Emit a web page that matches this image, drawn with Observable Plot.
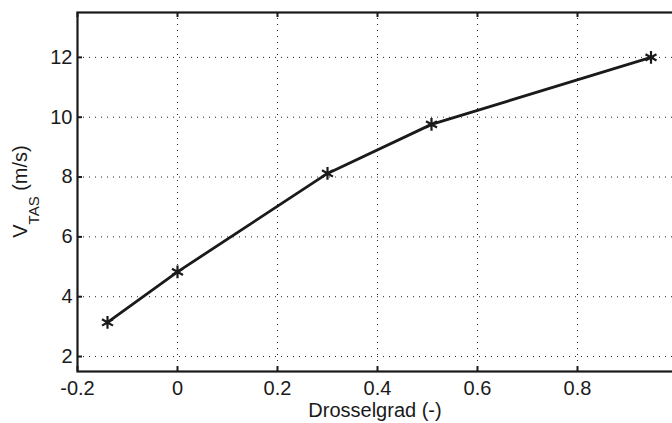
<!DOCTYPE html>
<html>
<head>
<meta charset="utf-8">
<script src="https://cdn.jsdelivr.net/npm/d3@7"></script>
<script src="https://cdn.jsdelivr.net/npm/@observablehq/plot@0.6"></script>
<style>
  html, body { margin: 0; padding: 0; background: #fff; overflow: hidden; }
  #chart { width: 672px; height: 423px; overflow: hidden; }
</style>
</head>
<body>
<div id="chart"></div>
<script>
// Data
const throttle = [-0.14, 0, 0.30, 0.508, 0.947];
const vtas = [3.14, 4.83, 8.12, 9.76, 12.0];
const xTicks = [-0.2, 0, 0.2, 0.4, 0.6, 0.8, 1.0];
const xLabelTicks = [-0.2, 0, 0.2, 0.4, 0.6, 0.8];
const xTickLabels = ["-0.2", "0", "0.2", "0.4", "0.6", "0.8"];
const yTicks = [2, 4, 6, 8, 10, 12];
const yTickLabels = ["2", "4", "6", "8", "10", "12"];
const xLabel = "Drosselgrad (-)";
const yLabelMain = "V";
const yLabelSub = "TAS";
const yLabelUnit = " (m/s)";

const data = throttle.map((t, i) => ({ t, v: vtas[i] }));

const W = 672, H = 423;
const mL = 77, mR = -5, mT = 12, mB = 52;
const innerW = W - mL - mR, innerH = H - mT - mB;
const ink = "#1a1a1a";
const tickLen = 5;

const plot = Plot.plot({
  width: W,
  height: H,
  marginLeft: mL,
  marginRight: mR,
  marginTop: mT,
  marginBottom: mB,
  style: { fontFamily: "'Liberation Sans', Arial, Helvetica, sans-serif", fontSize: "20px", background: "#fff", color: ink },
  x: { domain: [-0.2, 1.0] },
  y: { domain: [1.5, 13.5] },
  marks: [
    Plot.gridX(xTicks.slice(1, -1), { stroke: "#222", strokeOpacity: 1, strokeWidth: 1, strokeDasharray: "1,5" }),
    Plot.gridY(yTicks, { stroke: "#222", strokeOpacity: 1, strokeWidth: 1, strokeDasharray: "1,5" }),
    // inward ticks
    Plot.ruleX(xTicks, { x: d => d, insetTop: innerH - tickLen, stroke: ink, strokeWidth: 2 }),
    Plot.ruleX(xTicks, { x: d => d, insetBottom: innerH - tickLen, stroke: ink, strokeWidth: 2 }),
    Plot.ruleY(yTicks, { y: d => d, insetRight: innerW - tickLen, stroke: ink, strokeWidth: 2 }),
    Plot.ruleY(yTicks, { y: d => d, insetLeft: innerW - tickLen, stroke: ink, strokeWidth: 2 }),
    Plot.frame({ stroke: ink, strokeWidth: 2.2 }),
    Plot.axisX(xLabelTicks, { anchor: "bottom", tickSize: 0, tickPadding: 9, tickFormat: (d, i) => xTickLabels[i], label: null, fill: ink }),
    Plot.axisY(yTicks, { anchor: "left", tickSize: 0, tickPadding: 5, tickFormat: (d, i) => yTickLabels[i], label: null, fill: ink }),
    Plot.line(data, { x: "t", y: "v", stroke: ink, strokeWidth: 2.8, strokeLinejoin: "round" }),
    Plot.dot(data, { x: "t", y: "v", symbol: "asterisk", r: 6, stroke: ink, strokeWidth: 2.2, fill: "none" })
  ]
});

const svg = d3.select(plot);
const cx = mL + innerW / 2 - 2;
const cy = mT + innerH / 2;

svg.append("text")
  .attr("x", cx)
  .attr("y", 417)
  .attr("text-anchor", "middle")
  .attr("fill", ink)
  .style("font-size", "20px")
  .text(xLabel);

const yl = svg.append("text")
  .attr("transform", `translate(27,${cy}) rotate(-90)`)
  .attr("text-anchor", "middle")
  .attr("fill", ink)
  .style("font-size", "20px");
yl.append("tspan").text(yLabelMain);
yl.append("tspan").attr("dy", 12).style("font-size", "15px").text(yLabelSub);
yl.append("tspan").attr("dy", -12).text(yLabelUnit);

document.getElementById("chart").appendChild(plot);
</script>
</body>
</html>
